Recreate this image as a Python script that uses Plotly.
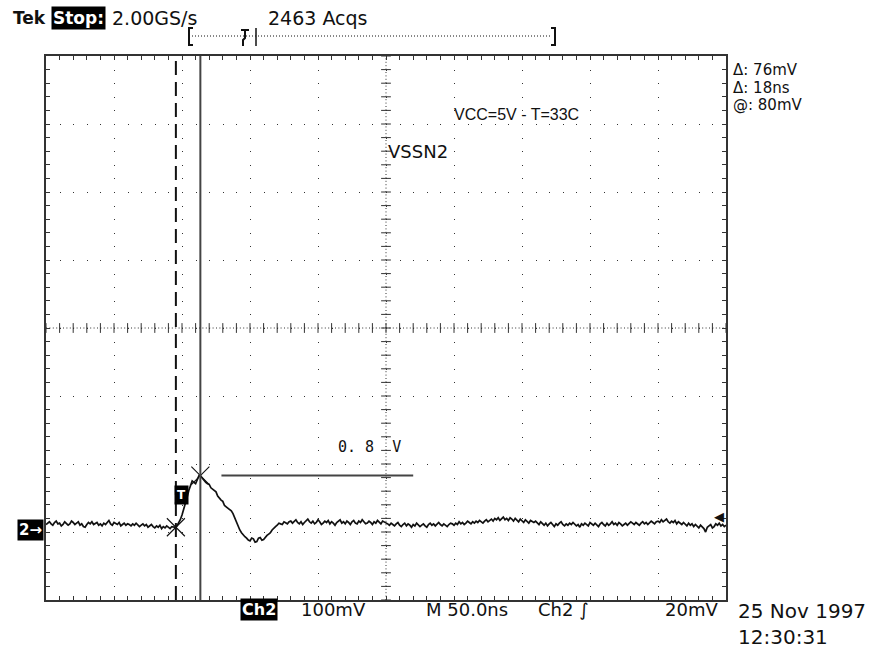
import numpy as np
import plotly.graph_objects as go

# ---------------- data ----------------
SAMPLE_NS = 1.25                     # spacing of the read-off samples
ch2_mv = [
    # 0 .. 93.75 ns : pre-trigger baseline
    8, 10, 12, 9, 7, 11, 13, 9, 10, 6, 8, 12, 10, 7, 9, 13, 11, 8, 10, 12,
    7, 9, 5, 4, 8, 11, 9, 12, 8, 10, 11, 7, 9, 6, 10, 8, 12, 14, 9, 7,
    11, 9, 8, 11, 6, 8, 10, 7, 9, 8, 6, 9, 7, 10, 8, 5, 7, 9, 6, 8,
    4, 6, 8, 5, 3, 6, 4, 7, 2, 5, 3, 6, 4, 2, 5, 4,
    # 95 .. 180 ns : ground bounce pulse and undershoot
    4, 6, 10, 15, 22, 30, 38, 48, 58, 66, 72, 70, 68, 74, 80, 79, 76, 72, 70, 68,
    67, 62, 60, 57, 56, 50, 46, 44, 42, 36, 34, 32, 30, 28, 24, 18, 10, 4, 0, -4,
    -8, -10, -12, -15, -16, -12, -13, -18, -17, -12, -11, -15, -14, -10, -8, -6, -4, 0, 3, 5,
    7, 10, 9, 8, 12, 10, 9, 12, 13,
    # 181.25 .. 250 ns
    10, 13, 15, 11, 9, 12, 8, 11, 14, 16, 12, 10, 13, 9, 11, 15, 12, 8, 10, 13,
    11, 14, 9, 12, 10, 7, 11, 13, 15, 10, 12, 9, 13, 11, 8, 12, 14, 10, 9, 13,
    11, 15, 12, 9, 10, 13, 11, 8, 12, 10, 14, 11, 9, 13, 12, 10,
    # 251.25 .. 325 ns
    9, 7, 10, 8, 6, 9, 11, 7, 5, 8, 10, 6, 9, 7, 4, 8, 6, 10, 8, 5,
    7, 9, 6, 4, 8, 10, 7, 9, 6, 8, 11, 8, 6, 9, 7, 5, 8, 10, 9, 7,
    10, 8, 12, 9, 11, 8, 10, 13, 11, 9, 12, 10, 13, 11, 14, 12, 10, 13, 15, 12,
    # 326.25 .. 360 ns
    14, 16, 13, 17, 15, 18, 14, 16, 19, 15, 17, 14, 18, 16, 13, 17, 15, 12, 16, 14,
    11, 15, 13, 10, 14, 12, 11, 13,
    # 361.25 .. 448.75 ns
    10, 8, 12, 9, 7, 10, 6, 9, 11, 8, 5, 9, 7, 10, 12, 8, 6, 9, 7, 10,
    8, 11, 9, 6, 8, 4, 9, 7, 10, 8, 6, 11, 9, 7, 10, 8, 5, 9, 11, 8,
    6, 10, 7, 9, 12, 8, 10, 7, 11, 9, 6, 8, 10, 7, 9, 12, 10, 8, 11, 9,
    7, 10, 12, 9, 11, 8, 10, 13, 11, 9, 12,
    # 450 .. 500 ns
    13, 11, 15, 12, 14, 16, 12, 10, 13, 11, 14, 9, 12, 10, 8, 11, 9, 6, 10, 7,
    9, 5, 8, 6, 3, 7, 5, 2, -3, 4, 6, 8, 3, 5, 9, 7, 10, 6, 8, 5, 7,
]
GROUND_MV = -297                     # on-screen position of the Ch2 ground marker
cursor_t_ns = [95.5, 113.5]          # Δ 18 ns
cursor_v_mv = [4, 80]                # Δ 76 mV, @ 80 mV
ref_line_mv = 80                     # "0.8 V" reference line
ref_line_t_ns = [129, 270]
trigger_level_mv = 20

x_range_ns = [0, 500]                # 10 div x 50 ns
y_range_mv = [-400, 400]             # 8 div x 100 mV
div_ns, div_mv = 50, 100

time_ns = np.arange(len(ch2_mv)) * SAMPLE_NS
trace_mv = np.array(ch2_mv) + GROUND_MV

# ---------------- geometry helpers (pixel -> paper) ----------------
W, H = 876, 653
PL, PR, PT, PB = 46, 726, 56, 600
def xp(px):
    return (px - PL) / (PR - PL)
def yp(py):
    return (PB - py) / (PB - PT)

FONT = "DejaVu Sans"
INK = "#111111"
GRID = "#333333"

fig = go.Figure()

# centre-axis tick marks
fig.add_trace(go.Scatter(
    x=np.arange(x_range_ns[0], x_range_ns[1] + 1, div_ns / 5), y=np.zeros(51),
    mode="markers", marker=dict(symbol="line-ns", size=7, line=dict(width=1, color=GRID)),
    hoverinfo="skip"))
fig.add_trace(go.Scatter(
    x=np.full(41, (x_range_ns[0] + x_range_ns[1]) / 2),
    y=np.arange(y_range_mv[0], y_range_mv[1] + 1, div_mv / 5),
    mode="markers", marker=dict(symbol="line-ew", size=7, line=dict(width=1, color=GRID)),
    hoverinfo="skip"))

# waveform
fig.add_trace(go.Scatter(x=time_ns, y=trace_mv, mode="lines",
                         line=dict(color=INK, width=1.7), hoverinfo="skip"))

# cursor crossings
fig.add_trace(go.Scatter(
    x=cursor_t_ns, y=np.array(cursor_v_mv) + GROUND_MV, mode="markers",
    marker=dict(symbol="x-thin", size=18, line=dict(width=1.1, color=INK)),
    hoverinfo="skip"))

shapes = []
# centre cross (finely dotted)
shapes.append(dict(type="line", xref="x", yref="y", x0=x_range_ns[0], x1=x_range_ns[1],
                   y0=0, y1=0, line=dict(color=GRID, width=1, dash="1px,2.4px"), layer="below"))
shapes.append(dict(type="line", xref="x", yref="y", x0=250, x1=250,
                   y0=y_range_mv[0], y1=y_range_mv[1],
                   line=dict(color=GRID, width=1, dash="1px,2.4px"), layer="below"))
# time cursors
shapes.append(dict(type="line", xref="x", yref="paper", x0=cursor_t_ns[0], x1=cursor_t_ns[0],
                   y0=0, y1=1, line=dict(color=INK, width=2, dash="14px,7px")))
shapes.append(dict(type="line", xref="x", yref="paper", x0=cursor_t_ns[1], x1=cursor_t_ns[1],
                   y0=0, y1=1, line=dict(color="#444444", width=2)))
# 0.8 V reference line
shapes.append(dict(type="line", xref="x", yref="y", x0=ref_line_t_ns[0], x1=ref_line_t_ns[1],
                   y0=ref_line_mv + GROUND_MV, y1=ref_line_mv + GROUND_MV,
                   line=dict(color="#444444", width=2)))

# record-length bar above the screen
shapes.append(dict(type="line", xref="paper", yref="paper", x0=xp(192), x1=xp(552),
                   y0=yp(36), y1=yp(36), line=dict(color=INK, width=1, dash="1px,2px")))
shapes.append(dict(type="path", xref="paper", yref="paper",
                   path=f"M{xp(193)},{yp(28)} L{xp(189)},{yp(28)} L{xp(189)},{yp(45)} L{xp(193)},{yp(45)}",
                   line=dict(color=INK, width=2)))
shapes.append(dict(type="path", xref="paper", yref="paper",
                   path=f"M{xp(551)},{yp(28)} L{xp(555)},{yp(28)} L{xp(555)},{yp(45)} L{xp(551)},{yp(45)}",
                   line=dict(color=INK, width=2)))
shapes.append(dict(type="path", xref="paper", yref="paper",
                   path=f"M{xp(241)},{yp(30)} L{xp(249)},{yp(30)} M{xp(245)},{yp(30)} L{xp(245)},{yp(38)} "
                        f"L{xp(243)},{yp(40)} L{xp(243)},{yp(46)}",
                   line=dict(color=INK, width=2)))
shapes.append(dict(type="line", xref="paper", yref="paper", x0=xp(256), x1=xp(256),
                   y0=yp(28), y1=yp(46), line=dict(color=INK, width=1.5)))

ann = []
def text(px, py, s, size=17, color=INK, bg=None, anchor="left", family=FONT, pad=1):
    d = dict(xref="paper", yref="paper", x=xp(px), y=yp(py), text=s, showarrow=False,
             xanchor=anchor, yanchor="middle", font=dict(family=family, size=size, color=color))
    if bg:
        d.update(bgcolor=bg, borderpad=pad)
    ann.append(d)

# header
text(11, 18, "<b>Tek</b>", size=17)
text(51, 18, "<b>Stop:</b>", size=17, color="white", bg="black")
text(110, 18, "2.00GS/s", size=19)
text(266, 18, "2463 Acqs", size=19)
# cursor readouts
text(731, 70.5, "Δ: 76mV", size=15)
text(731, 88, "Δ: 18ns", size=15)
text(731, 105.5, "@: 80mV", size=15)
# labels on screen
text(452, 115, "VCC=5V - T=33C", size=16, family="Liberation Sans")
text(386, 151, "VSSN2", size=18)
text(336, 447, "0. 8  V", size=15, family="DejaVu Sans Mono")
text(181, 495, "<b>T</b>", size=12, color="white", bg="black", anchor="center", pad=2)
# ground marker and trigger level
ann.append(dict(xref="paper", yref="y", x=xp(17), y=GROUND_MV, text="<b>2→</b>", showarrow=False,
                xanchor="left", yanchor="middle", bgcolor="black", borderpad=1,
                font=dict(family=FONT, size=15, color="white")))
ann.append(dict(xref="paper", yref="y", x=1, y=GROUND_MV + trigger_level_mv, text="◀",
                showarrow=False, xanchor="right", yanchor="middle",
                font=dict(family=FONT, size=13, color=INK)))
# footer
text(240, 609, "<b>Ch2</b>", size=16, color="white", bg="black")
text(299, 609, "100mV", size=18)
text(424, 609, "M 50.0ns", size=18)
text(536, 609, "Ch2 ∫", size=18)
text(663, 609, "20mV", size=18)
text(736, 611, "25 Nov 1997", size=20)
text(736, 637, "12:30:31", size=20)

axis_common = dict(showticklabels=False, showgrid=True, gridcolor=GRID, gridwidth=1,
                   zeroline=False, showline=True, linecolor="#333333", linewidth=2,
                   mirror="allticks", ticks="inside", ticklen=4, tickcolor=GRID, tickwidth=1,
                   fixedrange=True)

fig.update_layout(
    width=W, height=H, showlegend=False,
    paper_bgcolor="white", plot_bgcolor="white",
    margin=dict(l=PL, r=W - PR, t=PT, b=H - PB, pad=0),
    xaxis=dict(range=x_range_ns, tick0=0, dtick=div_ns, griddash="1px,12.6px",
               minor=dict(dtick=div_ns / 5, ticks="inside", ticklen=4, tickcolor=GRID, showgrid=False),
               **axis_common),
    yaxis=dict(range=y_range_mv, tick0=0, dtick=div_mv, griddash="1px,12.6px",
               minor=dict(dtick=div_mv / 5, ticks="inside", ticklen=4, tickcolor=GRID, showgrid=False),
               **axis_common),
    shapes=shapes, annotations=ann,
)

fig.write_html("out.html", config={"displayModeBar": False},
               post_script="document.body.style.margin='0';document.body.style.overflow='hidden';")
